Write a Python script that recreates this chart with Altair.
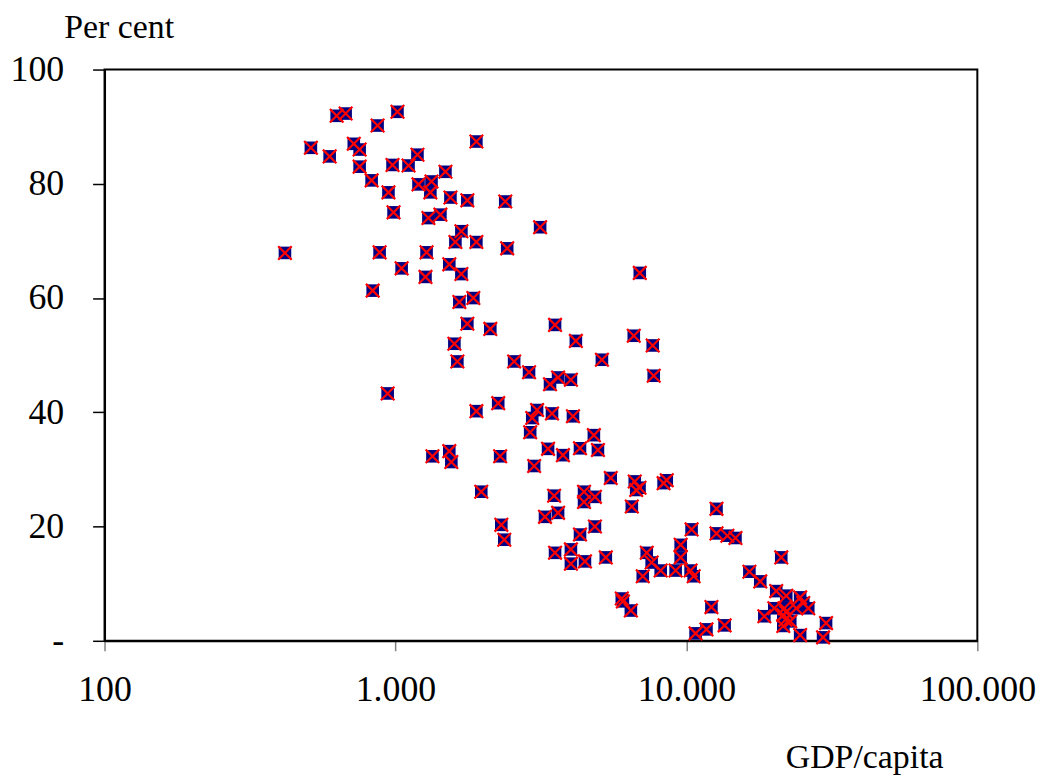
import altair as alt
import pandas as pd

gdp = [628, 674, 868, 1016, 1897, 512, 594, 719, 753, 753, 1190, 977, 1109, 1485,
       828, 1200, 1330, 1318, 946, 1545, 1766, 2384, 3142, 985, 1298, 1427, 1685,
       1607, 1897, 2421, 417, 882, 1279, 1050, 1531, 1685, 1268, 835,
       6915, 1658, 1852, 1766, 2118, 3536, 4169, 6594, 7660, 1594, 1632, 2558, 5124,
       2878, 3622, 3398, 4009, 7722, 940, 1897, 2255, 3067, 2952, 3452, 4075, 2904,
       4808, 1340, 1531, 1556, 2290, 3346, 3764, 4308, 4965, 2997, 5494, 6645, 6720,
       6900, 8350, 8560, 1972, 3510, 4448, 4448, 4848, 2311, 2366, 3266, 3622, 6492,
       4848, 4308, 12689, 10418, 9557, 9557, 12689, 13831, 14745, 3536, 4009, 4009,
       4480, 5284, 7307, 7596, 8159, 9183, 7080, 10338, 10592, 16464, 17940, 21185,
       20360, 22040, 24600, 25210, 26230, 23860, 21700, 20050, 18530, 21530, 22750,
       21530, 24600, 29500, 30200, 12190, 10754, 11720, 13530, 5997, 6050, 6443,
       22000, 21900]
pct = [91.9, 92.3, 90.2, 92.6, 87.4, 86.3, 84.8, 87.0, 86.0, 83.0, 85.1, 83.3, 83.2, 82.1,
       80.6, 79.9, 80.4, 78.5, 78.5, 77.6, 77.1, 76.9, 72.4, 75.0, 74.0, 74.6, 71.7,
       69.8, 69.8, 68.7, 67.9, 68.0, 68.0, 65.2, 65.9, 64.2, 63.7, 61.3,
       64.4, 59.3, 60.0, 55.5, 54.6, 55.3, 52.5, 53.4, 51.7, 52.0, 48.9, 48.9, 49.2,
       47.0, 46.1, 44.9, 45.7, 46.4, 43.3, 40.2, 41.6, 40.4, 39.0, 39.8, 39.3, 36.5,
       36.0, 32.3, 33.2, 31.3, 32.3, 33.6, 32.5, 33.7, 33.4, 30.6, 28.5, 27.9, 26.4,
       26.8, 27.6, 28.1, 26.1, 25.4, 26.1, 24.3, 25.2, 20.3, 17.7, 21.7, 22.4, 23.5,
       20.0, 18.6, 23.1, 19.5, 16.8, 14.6, 18.8, 18.4, 18.0, 15.4, 16.0, 13.5,
       13.9, 14.6, 15.4, 13.7, 12.3, 12.3, 11.3, 12.3, 11.3, 12.1, 10.4, 14.6,
       8.7, 7.9, 7.6, 6.6, 5.7, 5.7, 5.7, 5.7, 4.3, 4.5, 3.4,
       2.6, 1.0, 0.6, 3.1, 5.9, 1.3, 2.0, 2.7, 7.4, 6.9, 5.3,
       5.0, 3.7]

x_ticks = [100, 1000, 10000, 100000]
x_labels = ["100", "1.000", "10.000", "100.000"]
y_ticks = [0, 20, 40, 60, 80, 100]
y_labels = ["-", "20", "40", "60", "80", "100"]

x_title = "GDP/capita"
y_title = "Per cent"


def label_expr(values, labels):
    expr = "datum.label"
    for v, l in reversed(list(zip(values, labels))):
        expr = f"datum.value == {v} ? '{l}' : ({expr})"
    return expr


df = pd.DataFrame({"gdp": gdp, "pct": pct})

FONT = "Liberation Serif"

x_enc = alt.X(
    "gdp:Q",
    scale=alt.Scale(type="log", domain=[100, 100000], nice=False),
    axis=alt.Axis(
        values=x_ticks,
        labelExpr=label_expr(x_ticks, x_labels),
        title=x_title,
        titleX=684,
        titleY=127,
        titleAlign="left",
        titleBaseline="alphabetic",
        tickColor="#808080",
        tickSize=10,
        tickWidth=1.5,
        labelPadding=22,
        labelFlush=False,
        labelOverlap=False,
        grid=False,
    ),
)
y_enc = alt.Y(
    "pct:Q",
    scale=alt.Scale(domain=[0, 100], nice=False),
    axis=alt.Axis(
        values=y_ticks,
        labelExpr=label_expr(y_ticks, y_labels),
        title=y_title,
        titleAngle=0,
        titleX=-41,
        titleY=-32,
        titleAlign="left",
        titleBaseline="alphabetic",
        tickColor="black",
        tickSize=12,
        tickWidth=1.5,
        labelPadding=29,
        labelFlush=False,
        grid=False,
    ),
)

squares = alt.Chart(df).mark_square(
    size=160, color="#000080", opacity=1, filled=True
).encode(x=x_enc, y=y_enc)

crosses = alt.Chart(df).mark_point(
    shape="M-1,-1L1,1M-1,1L1,-1", size=185, filled=False,
    stroke="#FF0000", strokeWidth=2.2, opacity=1
).encode(x="gdp:Q", y="pct:Q")

chart = alt.layer(squares, crosses).properties(
    width=877,
    height=574,
    autosize=alt.AutoSizeParams(type="none"),
    padding={"left": 97, "top": 60, "right": 70, "bottom": 134},
).configure_view(
    stroke="black", strokeWidth=2
).configure_axis(
    labelFont=FONT,
    labelFontSize=36,
    labelColor="black",
    titleFont=FONT,
    titleFontSize=34,
    titleFontWeight="normal",
    titleColor="black",
    domainColor="black",
    domainWidth=2,
)

chart.save("out.html", embed_options={"renderer": "svg", "actions": False})
